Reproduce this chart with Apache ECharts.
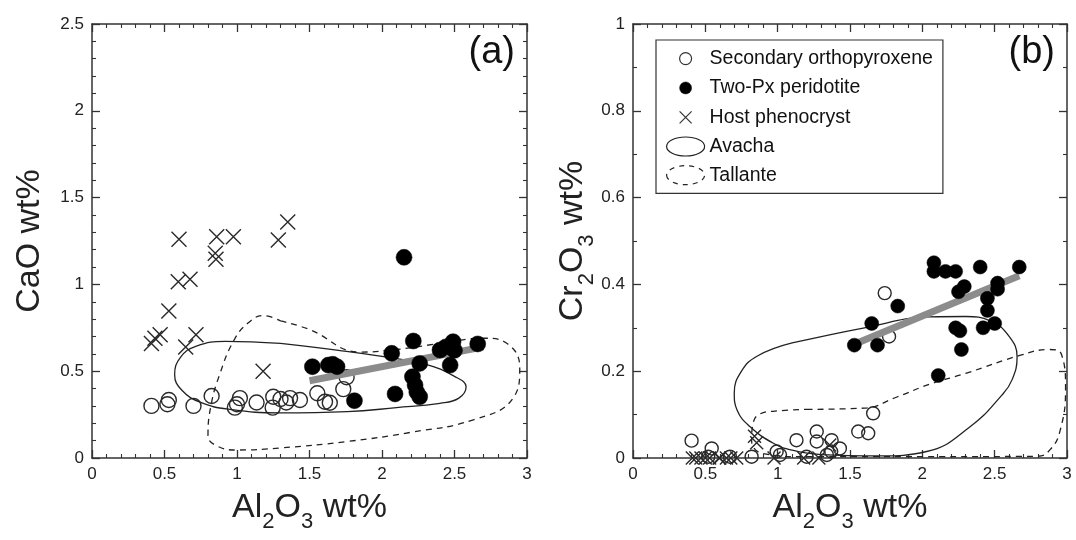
<!DOCTYPE html>
<html><head><meta charset="utf-8">
<script src="https://cdn.jsdelivr.net/npm/echarts@6/dist/echarts.min.js"></script>
<style>html,body{margin:0;padding:0;background:#fff}#c{width:1076px;height:540px}</style>
</head><body><div id="c"></div>
<script>
// ---------- DATA ----------
// Panel (a): Al2O3 vs CaO
const secOpxA = [[0.41,0.30],[0.52,0.31],[0.53,0.334],[0.70,0.30],[0.825,0.357],[0.985,0.29],[1.0,0.31],[1.02,0.345],[1.135,0.32],[1.25,0.353],[1.246,0.29],[1.30,0.34],[1.34,0.32],[1.366,0.345],[1.434,0.334],[1.554,0.373],[1.607,0.324],[1.64,0.318],[1.733,0.397],[1.756,0.465]];
const twoPxA = [[1.52,0.526],[1.63,0.535],[1.66,0.54],[1.69,0.526],[1.81,0.33],[2.067,0.603],[2.09,0.369],[2.152,1.156],[2.216,0.674],[2.21,0.468],[2.228,0.42],[2.26,0.353],[2.24,0.38],[2.26,0.545],[2.40,0.622],[2.44,0.64],[2.49,0.67],[2.50,0.62],[2.47,0.535],[2.66,0.657]];
const hostA = [[0.41,0.66],[0.434,0.69],[0.47,0.71],[0.53,0.847],[0.595,1.015],[0.60,1.26],[0.646,0.64],[0.676,1.03],[0.717,0.71],[0.85,1.18],[0.855,1.145],[0.86,1.275],[0.975,1.275],[1.18,0.50],[1.285,1.256],[1.35,1.36]];
const avachaA = [[1.3,0.66],[1.7,0.62],[2.0,0.585],[2.3,0.54],[2.5,0.47],[2.58,0.41],[2.53,0.345],[2.4,0.315],[2.1,0.29],[1.76,0.267],[1.3,0.26],[0.95,0.28],[0.75,0.32],[0.62,0.39],[0.57,0.48],[0.61,0.58],[0.72,0.645],[0.92,0.672],[1.3,0.66]];
const tallanteA = [[1.3,0.79],[1.5,0.74],[1.85,0.61],[2.1,0.625],[2.4,0.66],[2.7,0.69],[2.87,0.655],[2.95,0.52],[2.9,0.34],[2.63,0.22],[2.2,0.148],[1.76,0.095],[1.3,0.058],[1.0,0.046],[0.86,0.07],[0.80,0.13],[0.82,0.30],[0.88,0.48],[0.98,0.68],[1.08,0.78],[1.18,0.82],[1.3,0.79]];
const trendA = [[1.5,0.445],[2.7,0.64]];
// Panel (b): Al2O3 vs Cr2O3
const secOpxB = [[0.405,0.04],[0.52,0.003],[0.544,0.022],[0.67,0.003],[0.82,0.003],[0.993,0.015],[1.016,0.007],[1.13,0.041],[1.2,0.003],[1.27,0.061],[1.27,0.038],[1.34,0.007],[1.373,0.041],[1.43,0.022],[1.37,0.015],[1.557,0.061],[1.626,0.057],[1.66,0.103],[1.74,0.38],[1.77,0.28]];
const twoPxB = [[1.53,0.26],[1.65,0.31],[1.69,0.26],[1.83,0.35],[2.08,0.45],[2.08,0.43],[2.16,0.43],[2.23,0.43],[2.40,0.44],[2.67,0.44],[2.29,0.395],[2.25,0.383],[2.52,0.403],[2.52,0.389],[2.45,0.368],[2.45,0.34],[2.42,0.30],[2.50,0.31],[2.23,0.30],[2.26,0.293],[2.27,0.25],[2.11,0.19]];
const hostB = [[0.41,0],[0.434,0],[0.47,0],[0.50,0],[0.53,0],[0.595,0],[0.60,0],[0.646,0],[0.676,0],[0.717,0],[0.84,0.05],[0.855,0.035],[0.975,0],[1.18,0],[1.285,0],[1.36,0.03]];
const avachaB = [[1.1,0.265],[1.6,0.30],[2.05,0.325],[2.3,0.326],[2.47,0.316],[2.6,0.28],[2.655,0.233],[2.62,0.18],[2.55,0.145],[2.33,0.072],[2.03,0.015],[1.7,0.005],[1.3,0.008],[1.1,0.018],[0.97,0.034],[0.81,0.072],[0.72,0.11],[0.70,0.15],[0.75,0.20],[0.86,0.235],[1.1,0.265]];
const tallanteB = [[1.2,0.112],[1.6,0.115],[1.82,0.14],[2.05,0.17],[2.3,0.195],[2.68,0.237],[2.88,0.25],[2.96,0.24],[2.99,0.16],[2.95,0.06],[2.88,0.018],[2.8,0.004],[2.0,0.003],[1.2,0.003],[0.9,0.01],[0.82,0.04],[0.83,0.08],[0.88,0.102],[0.98,0.108],[1.2,0.112]];
const trendB = [[1.55,0.265],[2.67,0.42]];
const legendNames = ['Secondary orthopyroxene','Two-Px peridotite','Host phenocryst','Avacha','Tallante'];

// ---------- CHART ----------
const FONT = 'Liberation Sans, Arial, sans-serif';
const INK = '#222';
const crossPath = 'path://M0,0L10,10M10,0L0,10';
function fmt(v){ return String(+v.toFixed(2)); }

function axisBase(extra){
  return Object.assign({
    axisLine:{show:true,onZero:false,lineStyle:{color:'#333',width:1.5}},
    axisTick:{show:true,inside:true,length:8,lineStyle:{color:'#333',width:1.3}},
    splitLine:{show:false},
    axisLabel:{show:true,color:INK,fontSize:17,fontFamily:FONT,margin:8,formatter:fmt}
  }, extra);
}
function mirror(ax){
  const m = JSON.parse(JSON.stringify(ax));
  m.axisLabel = {show:false}; m.name = '';
  return m;
}
const rich = {
  n:{fontSize:34,fontFamily:FONT,color:INK,lineHeight:40,verticalAlign:'top'},
  s:{fontSize:22,fontFamily:FONT,color:INK,lineHeight:26,padding:[20,0,0,0],verticalAlign:'top'}
};
const minorT = (n)=>({show:true,splitNumber:n,length:4,lineStyle:{color:'#333',width:1.1}});

const xa = axisBase({type:'value',min:0,max:3,interval:0.5,minorTick:minorT(5),
  name:'{n|Al}{s|2}{n|O}{s|3}{n| wt%}',nameLocation:'middle',nameGap:33,nameTextStyle:{rich:rich}});
const ya = axisBase({type:'value',min:0,max:2.5,interval:0.5,minorTick:minorT(5),
  name:'CaO wt%',nameLocation:'middle',nameGap:45,nameTextStyle:{fontSize:34,fontFamily:FONT,color:INK}});
const yb = axisBase({type:'value',min:0,max:1,interval:0.2,minorTick:minorT(2),
  name:'{n|Cr}{s|2}{n|O}{s|3}{n| wt%}',nameLocation:'middle',nameGap:36,nameTextStyle:{rich:rich}});

const xAxes = [
  Object.assign({gridIndex:0,position:'bottom'}, xa),
  Object.assign(mirror(xa),{gridIndex:0,position:'top'}),
  Object.assign({gridIndex:1,position:'bottom'}, xa),
  Object.assign(mirror(xa),{gridIndex:1,position:'top'})
];
const yAxes = [
  Object.assign({gridIndex:0,position:'left'}, ya),
  Object.assign(mirror(ya),{gridIndex:0,position:'right'}),
  Object.assign({gridIndex:1,position:'left'}, yb),
  Object.assign(mirror(yb),{gridIndex:1,position:'right'})
];

function openSeries(name,data,xi,yi,size){
  return {name,type:'scatter',xAxisIndex:xi,yAxisIndex:yi,data,symbol:'circle',symbolSize:size,z:3,
    itemStyle:{color:'rgba(255,255,255,0)',borderColor:'#2a2a2a',borderWidth:1.4,opacity:1},emphasis:{disabled:true}};
}
function filledSeries(name,data,xi,yi,size){
  return {name,type:'scatter',xAxisIndex:xi,yAxisIndex:yi,data,symbol:'circle',symbolSize:size,z:6,
    itemStyle:{color:'#000',borderColor:'#000',borderWidth:0.5,opacity:1},emphasis:{disabled:true}};
}
function crossSeries(name,data,xi,yi,size){
  return {name,type:'scatter',xAxisIndex:xi,yAxisIndex:yi,data,symbol:crossPath,symbolSize:size,z:7,
    itemStyle:{color:'rgba(0,0,0,0)',borderColor:'#2a2a2a',borderWidth:1.4,opacity:1},emphasis:{disabled:true}};
}
function curve(name,data,xi,yi,dashed){
  return {name,type:'line',xAxisIndex:xi,yAxisIndex:yi,data,smooth:0.45,symbol:'none',z:4,silent:true,
    lineStyle:{color:'#222',width:1.3,type:dashed?[6,5]:'solid'},itemStyle:{color:'#222'}};
}
function trend(data,xi,yi){
  return {name:'trend',type:'line',xAxisIndex:xi,yAxisIndex:yi,data,symbol:'none',z:5,silent:true,
    lineStyle:{color:'#8c8c8c',width:7,cap:'butt'}};
}

const circleIcon = 'path://M0,0M38,20M13,10a6,6 0 1,0 12,0a6,6 0 1,0 -12,0Z';
const ellipseIcon = 'path://M1,10a18,9 0 1,0 36,0a18,9 0 1,0 -36,0Z';
const xIcon = 'path://M0,0M38,20M13,4L25,16M25,4L13,16';

const option = {
  animation:false,
  backgroundColor:'#fff',
  grid:[
    {left:92,right:549,top:24,bottom:82,containLabel:false},
    {left:633,right:9,top:24,bottom:82,containLabel:false}
  ],
  xAxis:xAxes, yAxis:yAxes,
  legend:{
    left:656, top:40, orient:'vertical', itemWidth:38, itemHeight:20, itemGap:8.5,
    padding:[8,10,8,10], borderColor:'#333', borderWidth:1.2, backgroundColor:'#fff',
    selectedMode:false,
    textStyle:{fontSize:19.5,fontFamily:FONT,color:'#111'},
    data:[
      {name:legendNames[0],icon:circleIcon,itemStyle:{color:'rgba(0,0,0,0)',borderColor:'#333',borderWidth:1.2}},
      {name:legendNames[1],icon:circleIcon,itemStyle:{color:'#000',borderColor:'#000',borderWidth:0.5}},
      {name:legendNames[2],icon:xIcon,itemStyle:{color:'rgba(0,0,0,0)',borderColor:'#333',borderWidth:1.2}},
      {name:legendNames[3],icon:ellipseIcon,itemStyle:{color:'rgba(0,0,0,0)',borderColor:'#222',borderWidth:1.2}},
      {name:legendNames[4],icon:ellipseIcon,itemStyle:{color:'rgba(0,0,0,0)',borderColor:'#222',borderWidth:1.2,borderType:[5,5]}}
    ]
  },
  graphic:[
    {type:'text',right:1076-515,top:34,style:{text:'(a)',fontSize:38,fontFamily:FONT,fill:'#111'}},
    {type:'text',right:1076-1055,top:34,style:{text:'(b)',fontSize:38,fontFamily:FONT,fill:'#111'}}
  ],
  series:[
    openSeries(legendNames[0],secOpxA,0,0,15),
    curve(legendNames[3],avachaA,0,0,false),
    curve(legendNames[4],tallanteA,0,0,true),
    trend(trendA,0,0),
    filledSeries(legendNames[1],twoPxA,0,0,16),
    crossSeries(legendNames[2],hostA,0,0,15),
    openSeries(legendNames[0],secOpxB,2,2,13),
    curve(legendNames[3],avachaB,2,2,false),
    curve(legendNames[4],tallanteB,2,2,true),
    trend(trendB,2,2),
    filledSeries(legendNames[1],twoPxB,2,2,14),
    crossSeries(legendNames[2],hostB,2,2,13)
  ]
};
const chart = echarts.init(document.getElementById('c'),null,{renderer:'canvas'});
chart.setOption(option);
</script></body></html>
